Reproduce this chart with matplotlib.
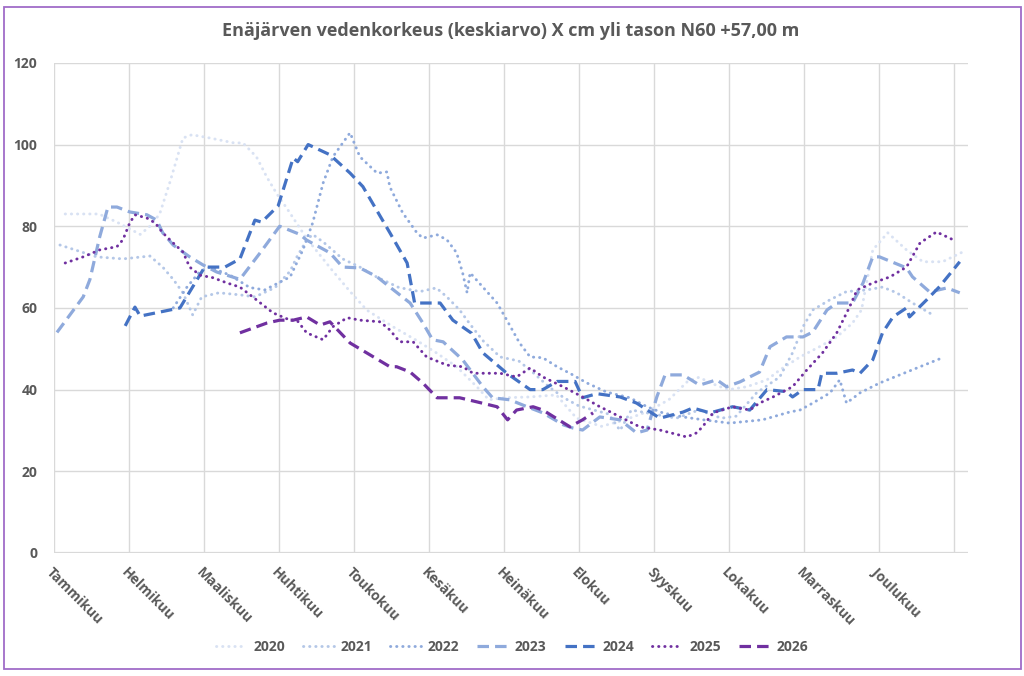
import matplotlib
matplotlib.use("Agg")
import matplotlib.pyplot as plt
from matplotlib.patches import Rectangle

plt.rcParams['font.family'] = ['Open Sans', 'DejaVu Sans']

months = ["Tammikuu", "Helmikuu", "Maaliskuu", "Huhtikuu", "Toukokuu", "Kesäkuu",
          "Heinäkuu", "Elokuu", "Syyskuu", "Lokakuu", "Marraskuu", "Joulukuu"]

# x = position in months from start of year, y = water level (cm)
x_2020 = [0.15, 0.6, 0.84, 1.15, 1.28, 1.41, 1.55, 1.72, 1.84, 2.08, 2.4, 2.52, 2.7, 2.84, 2.97,
          3.12, 3.37, 3.72, 3.95, 4.17, 4.52, 4.84, 5.1, 5.37, 5.64, 5.8, 6.0, 6.35, 6.7, 6.97,
          7.3, 7.6, 7.9, 8.2, 8.45, 8.6, 8.84, 9.0, 9.24, 9.51, 9.68, 9.95, 10.21, 10.44, 10.65,
          10.77, 10.92, 11.12, 11.37, 11.59, 11.85, 12.12]
y_2020 = [83, 83, 81, 78, 80, 83, 91, 101.6, 102.4, 101.6, 100.4, 100.4, 97, 92, 88,
          84, 77, 69, 64, 59.5, 55.4, 52, 49, 45.6, 40.7, 37.5, 38, 38.2, 38.7, 33,
          31, 32.5, 34.5, 37.5, 42, 43, 41, 40, 40.7, 42.4, 44.8, 48, 50.5, 52.9, 56.3,
          59.5, 74.2, 78.4, 74.2, 71.3, 71.3, 73.7]

x_2021 = [0.08, 0.57, 0.92, 1.28, 1.45, 1.59, 1.72, 1.85, 1.97, 2.2, 2.48, 2.68, 2.95, 3.15,
          3.24, 3.37, 3.45, 3.6, 3.85, 4.08, 4.3, 4.6, 4.88, 5.1, 5.24, 5.41, 5.55, 5.72, 5.95,
          6.2, 6.4, 6.6, 6.8, 7.0, 7.2, 7.4, 7.55, 7.7, 8.0, 8.3, 8.6, 8.9, 9.1, 9.37, 9.68,
          9.85, 9.99, 10.12, 10.35, 10.57, 10.84, 11.05, 11.24, 11.45, 11.72]
y_2021 = [75.4, 72.5, 72, 72.7, 70, 67, 63.7, 58.3, 62.7, 63.7, 63.2, 62.7, 65, 69,
          72.5, 76.6, 78, 76, 72, 70, 67.6, 65, 64, 64.9, 62.7, 59.5, 56, 52, 48,
          47, 44, 40.7, 38, 36, 35, 34, 30, 35, 34, 33, 35, 33, 33.5, 39.2, 43.1,
          49, 55.4, 59.5, 62, 64, 64.4, 65.1, 63.7, 61.2, 58.3]

x_2022 = [1.59, 1.77, 1.95, 2.08, 2.35, 2.61, 2.81, 3.15, 3.32, 3.45, 3.59, 3.72, 3.91, 3.95,
          3.99, 4.08, 4.31, 4.44, 4.48, 4.65, 4.84, 4.92, 5.11, 5.24, 5.37, 5.45, 5.51, 5.55,
          5.72, 5.91, 6.04, 6.21, 6.35, 6.52, 6.71, 6.88, 7.11, 7.37, 7.68, 7.91, 8.12, 8.39,
          8.7, 9.01, 9.45, 9.81, 9.95, 10.12, 10.35, 10.48, 10.57, 10.75, 11.01, 11.28, 11.55,
          11.85]
y_2022 = [60, 65, 69, 70, 68, 65, 64.4, 67.6, 74.2, 80.8, 90.6, 97, 101.9, 102.9,
          101, 97, 93, 93.3, 89.6, 83.3, 78.4, 77.1, 77.9, 76.7, 73.5, 68.6, 63.7, 68.6,
          65.1, 61.2, 57, 51.4, 48, 47.8, 45.6, 44, 41.6, 39.4, 38, 35.8, 34.3, 33.3,
          32.5, 31.8, 32.6, 34.5, 35, 36.7, 39.2, 42.4, 36.7, 39.2, 41.6, 43.6, 45.6,
          47.8]

x_2023 = [0.04, 0.39, 0.48, 0.61, 0.72, 0.84, 1.01, 1.24, 1.37, 1.45, 1.59, 1.81, 1.99, 2.17,
          2.48, 2.75, 3.01, 3.28, 3.37, 3.68, 3.85, 4.08, 4.31, 4.48, 4.75, 4.92, 5.05, 5.19,
          5.45, 5.72, 5.85, 6.08, 6.31, 6.52, 6.79, 6.92, 7.05, 7.28, 7.55, 7.77, 7.91, 8.04,
          8.15, 8.39, 8.61, 8.84, 8.97, 9.15, 9.41, 9.55, 9.77, 9.99, 10.12, 10.31, 10.44,
          10.65, 10.79, 10.92, 11.01, 11.37, 11.45, 11.68, 11.91, 12.08]
y_2023 = [54, 62.7, 67, 77.4, 84.7, 84.7, 83.5, 82.8, 81.5, 78.4, 75.4, 72.5, 70.5, 68.8,
          67, 73.5, 80, 78, 76.6, 73.5, 70, 69.8, 67.6, 65.1, 61.2, 56.3, 52.2, 51.7,
          47.3, 40.7, 38, 37.5, 35.8, 34.3, 31.4, 30.6, 30.1, 33.3, 32.6, 29.4, 30.1, 38.2,
          43.6, 43.6, 41.1, 42.4, 40.7, 41.9, 44.3, 50.5, 52.9, 52.9, 54.1, 59.5, 61.2,
          61.2, 66.1, 72.5, 72.5, 69.8, 67.6, 63.9, 64.9, 63.7]

x_2024 = [0.95, 1.08, 1.15, 1.68, 2.01, 2.28, 2.48, 2.68, 2.77, 2.99, 3.19, 3.25, 3.39, 3.68,
          3.95, 4.12, 4.48, 4.71, 4.81, 5.15, 5.32, 5.57, 5.72, 6.04, 6.35, 6.52, 6.71, 6.95,
          7.05, 7.24, 7.55, 7.77, 8.08, 8.39, 8.52, 8.75, 9.05, 9.28, 9.51, 9.77, 9.85, 9.99,
          10.19, 10.24, 10.44, 10.65, 10.75, 10.92, 11.05, 11.19, 11.37, 11.41, 11.64, 11.81,
          12.08]
y_2024 = [55.6, 60.2, 58, 60, 70, 70, 72, 81.5, 81, 85, 96.7, 95.8, 100, 97.5,
          93, 89.7, 78.4, 71, 61.2, 61.2, 57, 53.8, 49, 44, 40, 40, 42, 42,
          38, 39, 38.2, 36.7, 33, 34.5, 35.5, 34.3, 35.8, 35, 40, 39.5, 38.2, 40,
          40, 44, 44, 44.8, 44, 47.3, 53.9, 57.8, 60, 57.8, 62, 65.2,
          71.3]

x_2025 = [0.15, 0.39, 0.61, 0.84, 0.92, 1.01, 1.08, 1.24, 1.35, 1.45, 1.59, 1.72, 1.81, 1.95,
          2.12, 2.31, 2.48, 2.65, 2.92, 3.15, 3.24, 3.37, 3.59, 3.72, 3.91, 4.08, 4.35, 4.48,
          4.61, 4.79, 4.97, 5.24, 5.45, 5.59, 5.95, 6.17, 6.35, 6.52, 6.79, 7.05, 7.28, 7.37,
          7.81, 8.08, 8.44, 8.57, 8.65, 8.79, 9.05, 9.28, 9.41, 9.59, 9.85, 10.04, 10.25,
          10.44, 10.61, 10.71, 10.92, 11.15, 11.37, 11.55, 11.77, 11.99]
y_2025 = [71, 72.5, 74.2, 75, 76.7, 80.8, 82.8, 82, 80.8, 78.4, 75.9, 73.7, 70, 68,
          67.4, 66.1, 65.1, 62.7, 58.8, 57, 57, 53.9, 52.2, 55.4, 57.6, 57, 56.6, 54.6,
          51.7, 51.7, 48, 46, 45.6, 44, 44, 43.1, 45.3, 43.1, 40.7, 38.2, 35.8, 35,
          30.9, 30.1, 28.4, 29.4, 30.9, 34.3, 35.8, 35, 36.7, 38.2, 40.7, 44.8, 49,
          53.9, 60.2, 64.4, 66.1, 67.6, 70, 75.9, 78.6, 76.7]

x_2026 = [2.48, 2.84, 3.01, 3.19, 3.37, 3.55, 3.68, 3.95, 4.17, 4.48, 4.57, 4.75, 4.92, 5.11,
          5.41, 5.64, 5.91, 6.05, 6.17, 6.39, 6.52, 6.88, 7.05, 7.19]
y_2026 = [53.9, 56.3, 57, 57, 57.8, 55.8, 56.6, 51.4, 49, 45.6, 45.6, 44.3, 41.6, 38,
          38, 37, 35.8, 32.6, 35, 35.8, 35, 30.9, 32.6, 34.3]

DOT = (0, (0.1, 2.0))
DASH = (0, (3.6, 1.9))

fig = plt.figure(figsize=(10.24, 6.76), dpi=100)
ax = fig.add_axes([0.0527, 0.182, 0.8926, 0.725])

ax.plot(x_2020, y_2020, color="#D9E2F3", lw=2.1, ls=DOT, dash_capstyle="round", label="2020")
ax.plot(x_2021, y_2021, color="#B4C7E7", lw=2.1, ls=DOT, dash_capstyle="round", label="2021")
ax.plot(x_2022, y_2022, color="#8FAADC", lw=2.1, ls=DOT, dash_capstyle="round", label="2022")
ax.plot(x_2023, y_2023, color="#8FAADC", lw=2.3, ls=DASH, label="2023")
ax.plot(x_2024, y_2024, color="#4472C4", lw=2.3, ls=DASH, label="2024")
ax.plot(x_2025, y_2025, color="#7030A0", lw=2.1, ls=DOT, dash_capstyle="round", label="2025")
ax.plot(x_2026, y_2026, color="#7030A0", lw=2.3, ls=DASH, label="2026")

ax.set_xlim(0, 12.19)
ax.set_ylim(0, 120)
ax.set_yticks(range(0, 121, 20))
ax.set_xticks(range(0, 13))
ax.set_xticklabels(months + [""], rotation=-45, ha="left", va="top", rotation_mode="anchor")
ax.grid(True, color="#D9D9D9", lw=1)
ax.set_axisbelow(True)
for s in ax.spines.values():
    s.set_visible(False)
ax.axhline(0, color="#D9D9D9", lw=1.6, zorder=0.5)
ax.tick_params(length=0, labelsize=10, labelcolor="#595959")
for lab in ax.get_xticklabels() + ax.get_yticklabels():
    lab.set_fontweight("bold")
ax.tick_params(axis="y", pad=12)
ax.tick_params(axis="x", pad=9)

ax.set_title("Enäjärven vedenkorkeus (keskiarvo) X cm yli tason N60 +57,00 m",
             fontsize=13, fontweight="bold", color="#595959", pad=19)

leg = fig.legend(loc="center", bbox_to_anchor=(0.5, 0.043), ncol=7, frameon=False,
                 handlelength=2.2, handletextpad=0.5, columnspacing=1.3,
                 prop={"size": 10, "weight": "bold"})
for t in leg.get_texts():
    t.set_color("#595959")

fig.patches.append(Rectangle((4 / 1024, 1 - 669 / 676), 1017 / 1024, 662 / 676,
                             transform=fig.transFigure, fill=False,
                             edgecolor="#A06CC8", lw=1.3))

fig.savefig("out.png", dpi=100)
plt.close()
